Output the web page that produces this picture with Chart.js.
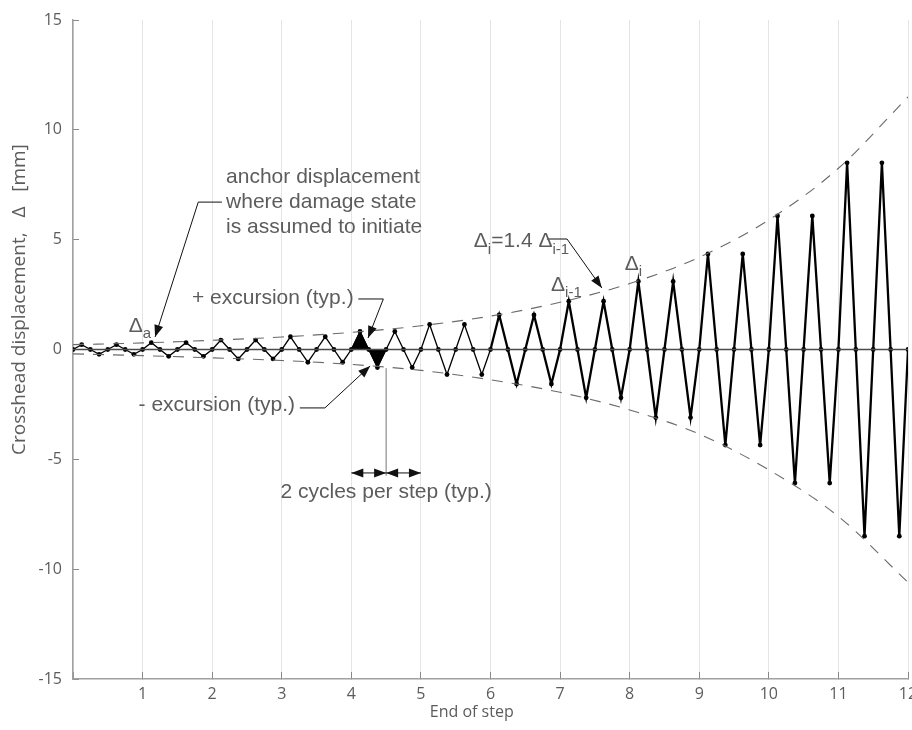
<!DOCTYPE html>
<html>
<head>
<meta charset="utf-8">
<script src="https://cdn.jsdelivr.net/npm/chart.js@4.4.0/dist/chart.umd.min.js"></script>
<style>
  html, body { margin: 0; padding: 0; background: #fff; }
  #wrap { width: 912px; height: 730px; }
</style>
</head>
<body>
<div id="wrap"><canvas id="protocolChart"></canvas></div>
<script>
// peak displacement of each step (mm), both cycles of a step share it
const stepAmplitude = [0.22, 0.31, 0.43, 0.58, 0.82, 1.14, 1.57, 2.2, 3.1, 4.35, 6.08, 8.5];

const envelopeX = [0, 1, 2, 3, 4, 5, 6, 7, 8, 9, 10, 11, 12];
const upperEnvelope = [0.22, 0.3, 0.42, 0.57, 0.78, 1.08, 1.52, 2.15, 3.0, 4.2, 5.9, 8.25, 11.5];
const lowerEnvelope = [-0.2, -0.28, -0.38, -0.5, -0.68, -0.95, -1.38, -1.95, -2.75, -3.85, -5.48, -7.6, -10.6];

const xTicks = [1, 2, 3, 4, 5, 6, 7, 8, 9, 10, 11, 12];
const yTicks = [-15, -10, -5, 0, 5, 10, 15];

// each step = 2 cycles = 8 quarter points
const zigzag = [];
stepAmplitude.forEach((a, s) => {
    [0, a, 0, -a, 0, a, 0, -a].forEach((v, k) => zigzag.push({ x: s + k / 8, y: v }));
});
zigzag.push({ x: 12, y: 0 });

// the typical excursion highlighted at step 5
const hs = 4;
const plusExcursion = [{ x: hs, y: 0 }, { x: hs + 0.125, y: stepAmplitude[hs] }, { x: hs + 0.25, y: 0 }];
const minusExcursion = [{ x: hs + 0.25, y: 0 }, { x: hs + 0.375, y: -stepAmplitude[hs] }, { x: hs + 0.5, y: 0 }];

const TEXT = '#5c5c5c';
const ANNO_FONT = '21px "Liberation Sans", Arial, sans-serif';
const SUB_FONT = '15px "Liberation Sans", Arial, sans-serif';
const AXIS_FONT = '"Open Sans", sans-serif';

function arrowHead(ctx, x1, y1, x2, y2) {
    const ang = Math.atan2(y2 - y1, x2 - x1);
    const len = 12, w = 4.5;
    ctx.beginPath();
    ctx.moveTo(x2, y2);
    ctx.lineTo(x2 - len * Math.cos(ang) + w * Math.sin(ang), y2 - len * Math.sin(ang) - w * Math.cos(ang));
    ctx.lineTo(x2 - len * Math.cos(ang) - w * Math.sin(ang), y2 - len * Math.sin(ang) + w * Math.cos(ang));
    ctx.closePath();
    ctx.fill();
}

// text with subscripts, parts = [[text, isSub], ...]
function richText(ctx, parts, x, y) {
    ctx.textAlign = 'left';
    ctx.textBaseline = 'middle';
    let cx = x;
    parts.forEach(p => {
        ctx.font = p[1] ? SUB_FONT : ANNO_FONT;
        ctx.fillText(p[0], cx, p[1] ? y + 8 : y);
        cx += ctx.measureText(p[0]).width;
    });
}

const annotations = {
    id: 'annotations',
    afterDatasetsDraw(chart) {
        const { ctx, chartArea } = chart;
        const X = v => chart.scales.x.getPixelForValue(v);
        const Y = v => chart.scales.y.getPixelForValue(v);
        ctx.save();

        // leaders with arrow heads
        ctx.strokeStyle = '#111';
        ctx.fillStyle = '#111';
        ctx.lineWidth = 1;
        const leaders = [
            [[2.14, 6.71], [1.80, 6.71], [1.18, 0.57]],
            [[4.10, 2.30], [4.46, 2.30], [4.24, 0.52]],
            [[3.26, -2.66], [3.62, -2.66], [4.27, -0.75]],
            [[6.81, 5.03], [7.10, 5.03], [7.60, 2.80]]
        ];
        leaders.forEach(pts => {
            ctx.beginPath();
            pts.forEach((p, i) => i ? ctx.lineTo(X(p[0]), Y(p[1])) : ctx.moveTo(X(p[0]), Y(p[1])));
            ctx.stroke();
            const a = pts[pts.length - 2], b = pts[pts.length - 1];
            arrowHead(ctx, X(a[0]), Y(a[1]), X(b[0]), Y(b[1]));
        });

        // cycle marker
        ctx.strokeStyle = '#777';
        ctx.beginPath();
        ctx.moveTo(X(4.5), Y(-0.85));
        ctx.lineTo(X(4.5), Y(-5.75));
        ctx.stroke();
        ctx.strokeStyle = '#111';
        [[4.0, 4.5], [4.5, 5.0]].forEach(([a, b]) => {
            const yy = Y(-5.62);
            ctx.beginPath();
            ctx.moveTo(X(a), yy);
            ctx.lineTo(X(b), yy);
            ctx.stroke();
            arrowHead(ctx, X(b), yy, X(a), yy);
            arrowHead(ctx, X(a), yy, X(b), yy);
        });

        // texts
        ctx.fillStyle = TEXT;
        ctx.font = ANNO_FONT;
        ctx.textBaseline = 'middle';
        ctx.textAlign = 'left';
        ['anchor displacement', 'where damage state', 'is assumed to initiate'].forEach((t, i) => {
            ctx.fillText(t, X(2.2), Y(7.85) + i * 25);
        });
        ctx.fillText('+ excursion (typ.)', X(1.71), Y(2.34));
        ctx.textAlign = 'right';
        ctx.fillText('- excursion (typ.)', X(3.19), Y(-2.53));
        ctx.textAlign = 'center';
        ctx.fillText('2 cycles per step (typ.)', X(4.5), Y(-6.49));

        richText(ctx, [['Δ', false], ['a', true]], X(0.8), Y(1.07));
        richText(ctx, [['Δ', false], ['i', true], ['=1.4 Δ', false], ['i-1', true]], X(5.76), Y(4.91));
        richText(ctx, [['Δ', false], ['i-1', true]], X(6.87), Y(2.93));
        richText(ctx, [['Δ', false], ['i', true]], X(7.93), Y(3.89));

        // axis titles
        ctx.fillStyle = TEXT;
        ctx.font = '16px ' + AXIS_FONT;
        ctx.textAlign = 'center';
        ctx.textBaseline = 'middle';
        ctx.fillText('End of step', X(5.73), chartArea.bottom + 33);
        ctx.font = '19px ' + AXIS_FONT;
        ctx.translate(chartArea.left - 53, Y(-4.8));
        ctx.rotate(-Math.PI / 2);
        ctx.textAlign = 'left';
        ctx.fillText('Crosshead displacement,   Δ   [mm]', 0, 0);
        ctx.restore();
    }
};

new Chart(document.getElementById('protocolChart'), {
    type: 'line',
    data: {
        datasets: [
            {
                data: envelopeX.map((x, i) => ({ x, y: upperEnvelope[i] })),
                borderColor: '#6a6a6a', borderWidth: 1.1, borderDash: [11, 9],
                pointRadius: 0, cubicInterpolationMode: 'monotone'
            },
            {
                data: envelopeX.map((x, i) => ({ x, y: lowerEnvelope[i] })),
                borderColor: '#6a6a6a', borderWidth: 1.1, borderDash: [11, 9],
                pointRadius: 0, cubicInterpolationMode: 'monotone'
            },
            {
                data: [{ x: 0, y: 0 }, { x: 12, y: 0 }],
                borderColor: '#4a4a4a', borderWidth: 1.5, pointRadius: 0
            },
            {
                data: plusExcursion, fill: 'origin', backgroundColor: '#000',
                borderColor: '#000', borderWidth: 1, pointRadius: 0, tension: 0
            },
            {
                data: minusExcursion, fill: 'origin', backgroundColor: '#000',
                borderColor: '#000', borderWidth: 1, pointRadius: 0, tension: 0
            },
            {
                data: zigzag,
                borderColor: '#000',
                borderWidth: 2.2,
                segment: { borderWidth: c => c.p0.parsed.x < 6 ? 1.3 : 2.3 },
                pointRadius: 2.4,
                pointBackgroundColor: '#000',
                pointBorderWidth: 0,
                tension: 0
            }
        ]
    },
    options: {
        responsive: true,
        maintainAspectRatio: false,
        animation: false,
        layout: { padding: { top: 20, right: 4, left: 0, bottom: 0 } },
        plugins: { legend: { display: false }, tooltip: { enabled: false } },
        scales: {
            x: {
                type: 'linear', min: 0, max: 12,
                afterBuildTicks: s => { s.ticks = [0].concat(xTicks).map(v => ({ value: v })); },
                afterFit: s => { s.height = 51; s.paddingLeft = 0; s.paddingRight = 0; },
                ticks: {
                    callback: v => v === 0 ? '' : v,
                    color: TEXT, padding: 13, maxRotation: 0, autoSkip: false,
                    font: { family: AXIS_FONT, size: 16 }
                },
                grid: { color: '#e4e4e4', lineWidth: 1, tickColor: '#888', tickLength: -7 },
                border: { color: '#a0a0a0', width: 1.5 }
            },
            y: {
                min: -15, max: 15,
                afterBuildTicks: s => { s.ticks = yTicks.map(v => ({ value: v })); },
                afterFit: s => { s.width = 73; s.paddingTop = 0; s.paddingBottom = 0; },
                ticks: {
                    color: TEXT, padding: 17, autoSkip: false,
                    font: { family: AXIS_FONT, size: 16 }
                },
                grid: { drawOnChartArea: false, tickColor: '#888', tickLength: -6 },
                border: { color: '#a0a0a0', width: 1.5 }
            }
        }
    },
    plugins: [annotations]
});
</script>
</body>
</html>
